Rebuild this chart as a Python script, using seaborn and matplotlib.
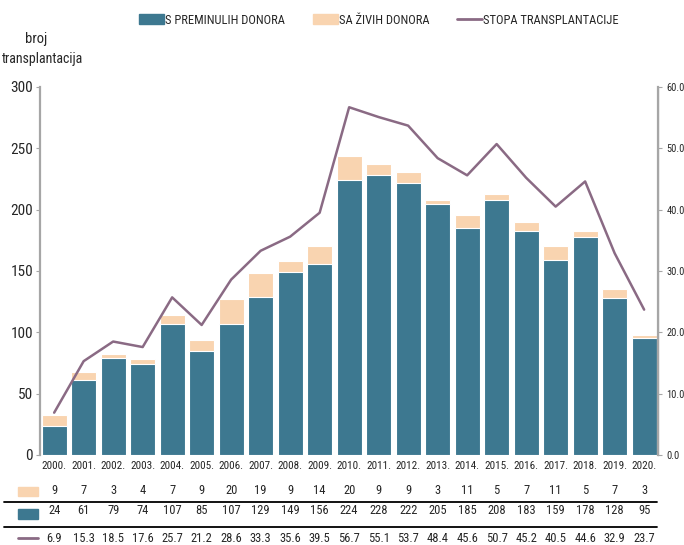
import numpy as np
import pandas as pd
import seaborn as sns
import matplotlib.pyplot as plt
from matplotlib.lines import Line2D
from matplotlib.patches import Patch, Rectangle
from matplotlib.transforms import blended_transform_factory

# podaci
godine = ["2000.", "2001.", "2002.", "2003.", "2004.", "2005.", "2006.", "2007.", "2008.", "2009.", "2010.",
          "2011.", "2012.", "2013.", "2014.", "2015.", "2016.", "2017.", "2018.", "2019.", "2020."]
zivi = [9, 7, 3, 4, 7, 9, 20, 19, 9, 14, 20, 9, 9, 3, 11, 5, 7, 11, 5, 7, 3]
preminuli = [24, 61, 79, 74, 107, 85, 107, 129, 149, 156, 224, 228, 222, 205, 185, 208, 183, 159, 178, 128, 95]
stopa = [6.9, 15.3, 18.5, 17.6, 25.7, 21.2, 28.6, 33.3, 35.6, 39.5, 56.7, 55.1, 53.7, 48.4, 45.6, 50.7,
         45.2, 40.5, 44.6, 32.9, 23.7]

df = pd.DataFrame({"Godina": godine, "Zivi": zivi, "Preminuli": preminuli, "Stopa": stopa})
df["Ukupno"] = df["Zivi"] + df["Preminuli"]

teal = "#3d7890"
peach = "#f9d4b0"
ljub = "#8a6a84"
siva = "#a6a6a6"

sns.set_style("white")
plt.rcParams['font.family'] = ['Roboto Condensed', 'DejaVu Sans']
plt.rcParams['font.stretch'] = 'condensed'

fig = plt.figure(figsize=(6.84, 5.45), dpi=100)
ax = fig.add_axes([40 / 684, 90 / 545, 618 / 684, 368 / 545])

# ukupno (svijetlo) pa preko toga preminuli donori
sns.barplot(data=df, x="Godina", y="Ukupno", color=peach, saturation=1, width=0.85,
            edgecolor="white", linewidth=0.8, ax=ax)
sns.barplot(data=df, x="Godina", y="Preminuli", color=teal, saturation=1, width=0.85,
            edgecolor="white", linewidth=0.8, ax=ax)
ax.set_xlim(-0.48, 20.47)
ax.set_ylim(0, 300)
ax.set_yticks(range(0, 301, 50))
ax.set_xlabel("")
ax.set_ylabel("")
ax.tick_params(axis="y", labelsize=11, length=3, color=siva, left=True, pad=2)
ax.tick_params(axis="x", labelsize=8, length=0, pad=4)
for s in ["top", "bottom"]:
    ax.spines[s].set_visible(False)
ax.spines["left"].set_color(siva)
ax.spines["left"].set_linewidth(1.6)

# stopa na desnoj osi
ax2 = ax.twinx()
sns.lineplot(x=np.arange(len(godine)), y=df["Stopa"], color=ljub, linewidth=1.8, ax=ax2)
ax2.set_ylim(0, 60)
ax2.set_yticks(range(0, 61, 10))
ax2.set_yticklabels([f"{v:.1f}" for v in range(0, 61, 10)])
ax2.set_ylabel("")
ax2.tick_params(axis="y", labelsize=7.5, length=3, color=siva, right=True, pad=3)
for s in ["top", "bottom", "left"]:
    ax2.spines[s].set_visible(False)
ax2.spines["right"].set_color(siva)
ax2.spines["right"].set_linewidth(1.6)

fig.text(36 / 684, 1 - 39 / 545, "broj", ha="center", va="center", fontsize=10.5)
fig.text(42 / 684, 1 - 59 / 545, "transplantacija", ha="center", va="center", fontsize=10)

# legenda
handles = [Patch(color=teal), Patch(color=peach), Line2D([], [], color=ljub, linewidth=2)]
fig.legend(handles, ["S PREMINULIH DONORA", "SA ŽIVIH DONORA", "STOPA TRANSPLANTACIJE"],
           loc="center", bbox_to_anchor=(379 / 684, 1 - 20 / 545), ncol=3, frameon=False, fontsize=9,
           handlelength=2.0, handleheight=0.9, handletextpad=0.1, columnspacing=2.2)

# tablica ispod grafa
tr = blended_transform_factory(ax.transData, fig.transFigure)
redovi = [(zivi, 491, "{}"), (preminuli, 511, "{}"), (stopa, 538, "{:.1f}")]
for vrijednosti, ypx, fmt in redovi:
    for i, v in enumerate(vrijednosti):
        ax.text(i, 1 - ypx / 545, fmt.format(v), transform=tr, ha="center", va="center",
                fontsize=9, clip_on=False)

fig.patches.append(Rectangle((18 / 684, 1 - 496 / 545), 20 / 684, 9 / 545, color=peach,
                             transform=fig.transFigure))
fig.patches.append(Rectangle((18 / 684, 1 - 519 / 545), 20 / 684, 10 / 545, color=teal,
                             transform=fig.transFigure))
fig.lines.append(Line2D([18 / 684, 38 / 684], [1 - 538 / 545] * 2, color=ljub, linewidth=2,
                        transform=fig.transFigure))
for ypx in [502, 527]:
    fig.lines.append(Line2D([4 / 684, 657 / 684], [1 - ypx / 545] * 2, color="black", linewidth=1.3,
                            transform=fig.transFigure))

fig.savefig("out.png", dpi=100)
